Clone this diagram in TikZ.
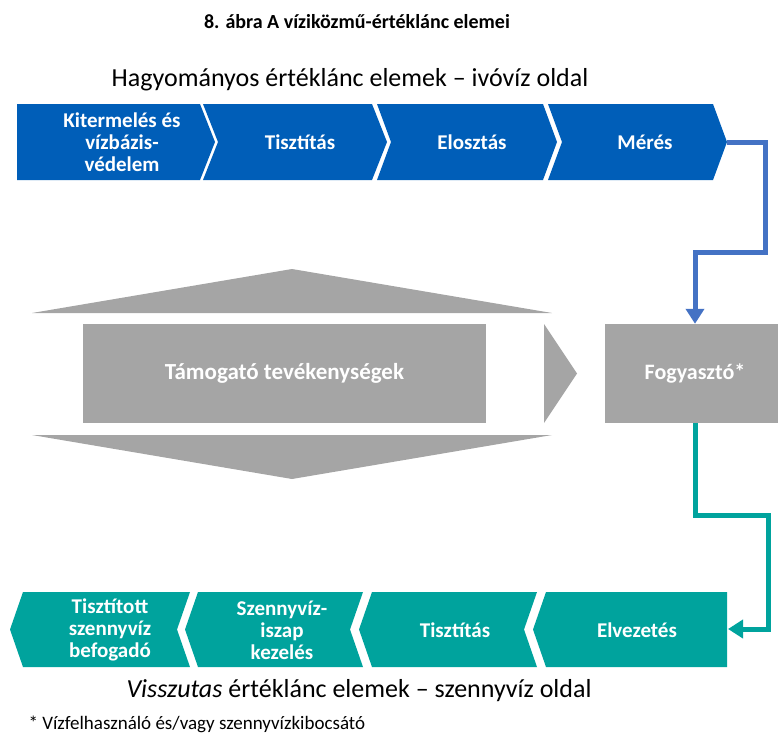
\documentclass[tikz,border=0pt]{standalone}
\usepackage{fontspec}
\setmainfont{Carlito}
\usetikzlibrary{arrows.meta,positioning}
\definecolor{chainblue}{HTML}{005EB8}
\definecolor{linkblue}{HTML}{4472C4}
\definecolor{chainteal}{HTML}{00A39D}
\definecolor{supportgray}{HTML}{A5A5A5}
\tikzset{
	bluechev/.style={
		fill=chainblue
	},
	tealchev/.style={
		fill=chainteal
	},
	chevtext/.style={
		text=white,
		font=\fontsize{21}{22}\selectfont\bfseries,
		align=center
	},
	graybox/.style={
		rectangle,
		fill=supportgray,
		text=white,
		inner sep=0pt,
		minimum height=99pt,
		font=\fontsize{23}{26}\selectfont\bfseries
	},
	caption/.style={
		font=\fontsize{26}{30}\selectfont
	},
	bluelink/.style={
		draw=linkblue,
		line width=5pt,
		-{Triangle[width=18pt,length=15pt]}
	},
	teallink/.style={
		draw=chainteal,
		line width=5pt,
		-{Triangle[width=18pt,length=15pt]}
	},
}

\begin{document}
\begin{tikzpicture}[x=1pt,y=-1pt]
		\useasboundingbox (0,0) rectangle (778,736);
		\clip (0,0) rectangle (778,736);

		\node (title) [font=\fontsize{20}{24}\selectfont\bfseries] at (357,22) {8. ábra A víziközmű-értéklánc elemei};
		\node (toplabel) [caption] at (350,80) {Hagyományos értéklánc elemek -- ivóvíz oldal};

		% ivovizes oldal
		\fill [bluechev] (17,104) -- (200,104) -- (215,142) -- (200,180) -- (17,180) -- cycle;
		\fill [bluechev] (203,104) -- (372,104) -- (387,142) -- (372,180) -- (203,180) -- (218,142) -- cycle;
		\fill [bluechev] (377,104) -- (543,104) -- (557,142) -- (543,180) -- (377,180) -- (391,142) -- cycle;
		\fill [bluechev] (548,104) -- (713,104) -- (727,142) -- (713,180) -- (548,180) -- (562,142) -- cycle;
		\node (kitermeles) [chevtext] at (122,142) {Kitermelés és\\vízbázis-\\védelem};
		\node (tisztitas) [chevtext] at (300,142) {Tisztítás};
		\node (elosztas) [chevtext] at (472,142) {Elosztás};
		\node (meres) [chevtext] at (645,142) {Mérés};
		\coordinate (meres tip) at (727,142);

		% tamogato tevekenysegek
		\fill [supportgray] (32,313) -- (292,269) -- (552,313) -- cycle;
		\fill [supportgray] (32,435) -- (552,435) -- (292,479) -- cycle;
		\node (tamogato) [graybox,minimum width=403pt] at (284.5,373.5) {Támogató tevékenységek};
		\fill [supportgray] (544,324) -- (577,373.5) -- (544,423) -- cycle;
		\node (fogyaszto) [graybox,minimum width=180pt,font=\fontsize{22}{24}\selectfont\bfseries] at (695,373.5) {Fogyasztó*};

		% szennyvizes oldal
		\fill [tealchev] (23,592) -- (190,592) -- (177,629.5) -- (190,667) -- (23,667) -- (10,629.5) -- cycle;
		\fill [tealchev] (198,592) -- (363,592) -- (350,629.5) -- (363,667) -- (198,667) -- (185,629.5) -- cycle;
		\fill [tealchev] (372,592) -- (537,592) -- (524,629.5) -- (537,667) -- (372,667) -- (359,629.5) -- cycle;
		\fill [tealchev] (546,592) -- (727,592) -- (727,667) -- (546,667) -- (533,629.5) -- cycle;
		\node (befogado) [chevtext] at (110,630) {Tisztított\\szennyvíz\\befogadó};
		\node (iszap) [chevtext] at (282,630) {Szennyvíz-\\iszap\\kezelés};
		\node (tisztitas2) [chevtext] at (455,630) {Tisztítás};
		\node (elvezetes) [chevtext] at (637,630) {Elvezetés};
		\coordinate (elvezetes end) at (728,629);

		\node (bottomlabel) [caption] at (359,691) {\textit{Visszutas} értéklánc elemek -- szennyvíz oldal};
		\node (footnote) [anchor=base west,font=\fontsize{19}{22}\selectfont,inner ysep=1pt] at (25,729) {* Vízfelhasználó és/vagy szennyvízkibocsátó};

		\draw [bluelink] (meres tip) -- (765,142) -- (765,252) -| (fogyaszto.north);
		\draw [teallink] (fogyaszto.south) -- (695,515) -| (768,629) -- (elvezetes end);

		\end{tikzpicture}
\end{document}
